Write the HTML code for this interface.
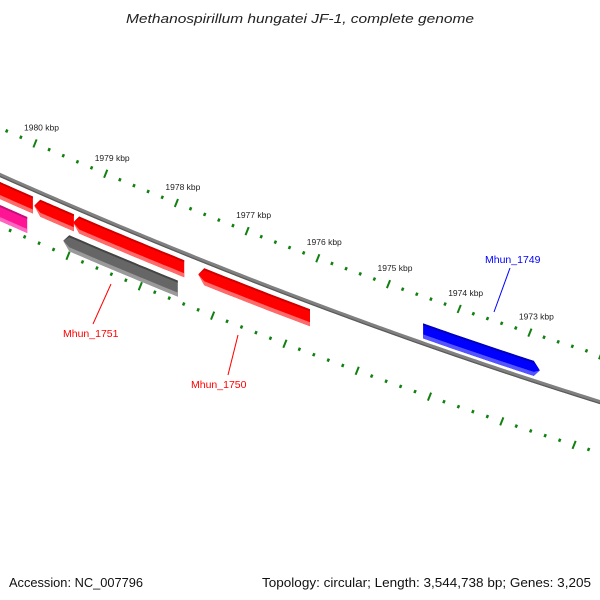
<!DOCTYPE html>
<html><head><meta charset="utf-8"><style>
body{margin:0;background:#fff}
svg{display:block;font-family:"Liberation Sans","DejaVu Sans",sans-serif}
</style></head><body>
<svg id="c" width="600" height="600" viewBox="0 0 600 600">
<text x="126" y="23" font-size="13" font-style="italic" fill="#222" textLength="348" lengthAdjust="spacingAndGlyphs">Methanospirillum hungatei JF-1, complete genome</text>
<text x="9" y="587" font-size="13" fill="#111" textLength="134" lengthAdjust="spacingAndGlyphs">Accession: NC_007796</text>
<text x="262" y="587" font-size="13" fill="#111" textLength="329" lengthAdjust="spacingAndGlyphs">Topology: circular; Length: 3,544,738 bp; Genes: 3,205</text>
<g id="g"></g>
</svg>
<script>
const majorKbp=[1980,1979,1978,1977,1976,1975,1974,1973];
const featNames=["f1","f2","f3","Mhun_1750","Mhun_1751","f6","Mhun_1749"];
const featStart=[1980.6,1980.01,1979.46,1977.69,1979.60,1980.7,1974.51];
const featEnd=[1980.03,1979.45,1977.89,1976.11,1977.98,1980.11,1972.86];
const featStrand=[-1,-1,-1,-1,-2,-2,1];
const featColor=["#ff0000","#ff0000","#ff0000","#ff0000","#666666","#ff1493","#0000ff"];
const featLight=["#ff6a6a","#ff6a6a","#ff6a6a","#ff6a6a","#9a9a9a","#ff66c0","#5555ff"];
const featDark=["#cc0000","#cc0000","#cc0000","#cc0000","#444444","#c0107a","#0000bb"];
const labelText=["Mhun_1751","Mhun_1750","Mhun_1749"];
const labelColor=["#ff0000","#ff0000","#0000ff"];
const labelPos=[[63,337],[191,388],[485,263]];
const labelLine=[[93,324,111,284],[228,375,238,335],[510,268,494,312]];

const NS="http://www.w3.org/2000/svg";
const g=document.getElementById('g');
function bb(x){return 175+0.445*x-0.000111*x*x;}
function xOut(k){return 35+(1980-k)*70.7;}
function xIn(k){return 68+(1980-k)*72.3;}
function mk(t,a){const e=document.createElementNS(NS,t);for(const k in a)e.setAttribute(k,a[k]);g.appendChild(e);return e;}
let d="";for(let x=-5;x<=605;x+=5){d+=(x==-5?"M":"L")+x+" "+bb(x).toFixed(2);}
let p=mk('path',{d:d,stroke:"#808080","stroke-width":4,fill:"none"});

let p2=mk('path',{d:d,stroke:"#5a5a5a","stroke-width":1.2,fill:"none",transform:"translate(0,1.5)"});

function ticks(xf,off,name,labels){
  for(let i=0;i<=55;i++){const k=1981-i*0.2;const kr=Math.round(k*10)/10;const x=xf(kr);if(x<-5||x>605)continue;
    const y=bb(x)+off;const major=Math.abs(kr-Math.round(kr))<0.01;
    const h=major?4:1.5;
    const l=mk('line',{x1:x-h*0.4,y1:y+h,x2:x+h*0.4,y2:y-h,stroke:"#108010","stroke-width":major?2:2.5});
    
  }
  if(labels)majorKbp.forEach(k=>{const x=xf(k);const t=mk('text',{x:x-11,y:bb(x)+off-13,"font-size":8.5,fill:"#222"});t.textContent=k+" kbp";
    });
}
ticks(xOut,-47,'outer',true);
ticks(xIn,51,'inner',false);
featStart.forEach((s,i)=>{
  let x1=xOut(s),x2=xOut(featEnd[i]);const st=featStrand[i];
  let o1,o2;
  if(st==1){o1=-20;o2=-5;}else if(st==-1){o1=7;o2=24;}else{o1=30;o2=46;}
  const tip=6,mid=(o1+o2)/2;
  function band(a,b){let top=[],bot=[];
    const xa=st<0?x1+tip:x1, xb=st>0?x2-tip:x2;
    for(let t=0;t<=20;t++){const x=xa+(xb-xa)*t/20;top.push([x,bb(x)+a]);bot.unshift([x,bb(x)+b]);}
    let pts=[];
    if(st<0)pts.push([x1,bb(x1)+mid]);
    pts=pts.concat(top);
    if(st>0)pts.push([x2,bb(x2)+mid]);
    pts=pts.concat(bot);
    return pts.map(q=>q[0].toFixed(1)+","+q[1].toFixed(1)).join(" ");}
  const m=mk('polygon',{points:band(o1,o2),fill:featColor[i]});
  
  const lo=mk('polygon',{points:band(o2-4,o2),fill:featLight[i]});
  
  const hi=mk('polygon',{points:band(o1,o1+2),fill:featDark[i]});
  
});
labelText.forEach((t,i)=>{
  const L=labelLine[i];
  const l=mk('line',{x1:L[0],y1:L[1],x2:L[2],y2:L[3],stroke:labelColor[i],"stroke-width":1});
  
  const e=mk('text',{x:labelPos[i][0],y:labelPos[i][1],"font-size":10.5,fill:labelColor[i]});e.textContent=t;
  
});
</script>
</body></html>
